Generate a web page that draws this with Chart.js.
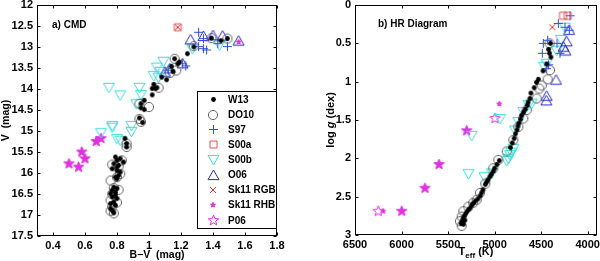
<!DOCTYPE html>
<html>
<head>
<meta charset="utf-8">
<script src="https://cdn.jsdelivr.net/npm/chart.js@4/dist/chart.umd.min.js"></script>
<style>
  html, body { margin: 0; padding: 0; background: #fff; overflow: hidden; width: 600px; height: 261px; }
  .panel { position: absolute; top: -10px; }
</style>
</head>
<body>
<div class="panel" style="left:0px"><canvas id="cmd" width="300" height="271"></canvas></div>
<div class="panel" style="left:300px"><canvas id="hr" width="310" height="271"></canvas></div>
<script>
// ---- tick labels ----
const cmdXTicks = [0.4, 0.6, 0.8, 1, 1.2, 1.4, 1.6, 1.8];
const cmdYTicks = [12, 12.5, 13, 13.5, 14, 14.5, 15, 15.5, 16, 16.5, 17, 17.5];
const hrXTicks = [6500, 6000, 5500, 5000, 4500, 4000];
const hrYTicks = [0, 0.5, 1, 1.5, 2, 2.5, 3];
const seriesNames = ['W13', 'DO10', 'S97', 'S00a', 'S00b', 'O06', 'Sk11 RGB', 'Sk11 RHB', 'P06'];

// ---- a) CMD : [B-V, V] ----
const cmdW13 = [[1.39,12.79],[1.45,12.85],[1.49,12.80],[1.28,13.00],[1.24,13.16],[1.16,13.28],[1.19,13.36],[1.18,13.40],
  [1.14,13.46],[1.15,13.58],[1.08,13.72],[1.11,13.78],[1.03,13.89],[1.02,13.99],[1.04,13.99],[1.05,13.97],[1.02,14.14],
  [0.97,14.27],[0.95,14.35],[0.95,14.45],[0.97,14.49],[0.94,14.69],[0.96,14.80],
  [0.85,15.18],[0.86,15.30],[0.86,15.38],[0.79,15.62],[0.82,15.66],[0.80,15.70],[0.84,15.74],[0.78,15.78],[0.81,15.82],
  [0.80,15.86],[0.77,15.90],[0.80,15.94],[0.82,15.98],[0.81,16.06],[0.79,16.10],[0.80,16.14],
  [0.78,16.34],[0.80,16.37],[0.77,16.41],[0.79,16.46],[0.76,16.49],[0.79,16.53],[0.77,16.57],[0.80,16.61],[0.78,16.69],
  [0.76,16.73],[0.79,16.77],[0.76,16.85],[0.77,16.89],[0.78,16.95]];
const cmdDO10 = [[1.39,12.79],[1.49,12.80],[1.28,12.98],[1.16,13.28],[1.17,13.56],[1.13,13.62],[1.06,13.97],[0.94,14.35],
  [1.00,14.43],[0.94,14.71],[0.95,14.78],[0.86,15.30],[0.86,15.38],[0.77,15.80],[0.83,15.70],[0.81,15.84],[0.82,16.02],
  [0.80,16.10],[0.76,16.18],[0.78,16.36],[0.81,16.40],[0.77,16.50],[0.76,16.65],[0.80,16.70],[0.77,16.80],[0.76,16.90],[0.78,16.96]];
const cmdS97 = [[1.31,12.65],[1.34,12.80],[1.31,12.99],[1.34,13.04],[1.36,13.07],[1.43,12.92],[1.49,12.99],[1.21,13.40],[1.23,13.45],[1.12,13.55]];
const cmdS00a = [[1.18,12.53]];
const cmdS00b = [[1.44,12.95],[1.27,13.04],[1.09,13.34],[1.05,13.48],[1.07,13.58],[1.03,13.68],[1.06,13.72],[0.75,13.96],
  [0.82,14.14],[0.94,13.96],[0.95,14.13],[0.92,14.35],[0.77,14.87],[0.70,15.04],[0.89,14.87],[0.89,15.01],[0.80,15.18],[0.82,15.22],[0.77,14.91]];
const cmdO06 = [[1.26,12.83],[1.34,12.75],[1.40,12.73],[1.46,12.74],[1.56,12.86],[1.21,13.40],[1.13,13.52],[1.10,13.60]];
const cmdSk11Rgb = [[1.18,12.53]];
const cmdSk11Rhb = [[1.56,12.88]];
const cmdP06Filled = [[0.50,15.78],[0.56,15.86],[0.58,15.50],[0.60,15.66],[0.67,15.25],[0.70,15.18]];
const cmdP06Open = [];

// ---- b) HR diagram : [Teff, log g] ----
const hrW13 = [[4400,0.50],[4420,0.58],[4410,0.63],[4395,0.68],[4440,0.77],[4480,0.86],[4530,0.97],[4550,1.01],[4575,1.08],
  [4610,1.15],[4620,1.22],[4640,1.27],[4650,1.31],[4670,1.36],[4690,1.40],[4710,1.44],[4720,1.49],[4740,1.54],[4750,1.58],
  [4760,1.63],[4775,1.68],[4790,1.74],[4810,1.80],[4830,1.86],[4950,2.03],[4975,2.08],[5000,2.13],[5015,2.17],[5035,2.21],
  [5050,2.24],[5070,2.28],[5085,2.31],[5100,2.34],[5125,2.41],[5140,2.45],[5155,2.49],[5180,2.53],[5210,2.56],[5230,2.59],
  [5245,2.61],[5265,2.65],[5280,2.67],[5300,2.70],[5315,2.73],[5330,2.76],[5340,2.79],[5350,2.82],[5360,2.85],[5335,2.86],[5320,2.81]];
const hrDO10 = [[4410,0.50],[4405,0.85],[4430,0.97],[4494,1.05],[4520,1.09],[4548,1.22],[4655,1.37],[4692,1.48],[4745,1.59],
  [4799,1.76],[4870,1.91],[4960,2.02],[5014,2.13],[5157,2.45],[5193,2.54],[5282,2.63],[5336,2.69],[5354,2.76],[5372,2.82],
  [5354,2.88],[5100,2.33],[5230,2.58]];
const hrS97 = [[4190,0.14],[4316,0.24],[4244,0.29],[4198,0.33],[4477,0.50],[4488,0.63],[4298,0.63],[4441,0.83],[4420,0.78],[4430,0.46],[4330,0.50]];
const hrS00a = [[4265,0.14],[4215,0.14]];
const hrS00b = [[4244,0.29],[4287,0.45],[4334,0.59],[4441,0.76],[4470,0.80],[4602,1.28],[4638,1.30],[4692,1.39],[4745,1.52],
  [4781,1.63],[4799,1.87],[4835,1.95],[4853,2.00],[4870,2.03],[4942,1.48],[5246,1.70],[5280,2.20],[5110,2.24],[5030,2.19],[4820,1.92]];
const hrO06 = [[4200,0.33],[4226,0.48],[4240,0.60],[4260,0.55],[4340,0.98],[4441,1.19],[4445,1.25]];
const hrSk11Rgb = [[4380,0.29]];
const hrSk11Rhb = [[4950,1.29],[6196,2.69]];
const hrP06Filled = [[5300,1.64],[5597,2.08],[5748,2.39],[5998,2.69]];
const hrP06Open = [[4996,1.48],[6250,2.69]];

// ---- marker glyphs ----
function marker(kind, r, color, fill) {
  const s = Math.ceil(2 * r + 4);
  const c = document.createElement('canvas');
  c.width = c.height = s;
  const g = c.getContext('2d');
  const m = s / 2;
  g.strokeStyle = color;
  g.fillStyle = fill || color;
  g.lineWidth = 1;
  g.beginPath();
  if (kind === 'dot') { g.arc(m, m, r, 0, 2 * Math.PI); g.fill(); return c; }
  if (kind === 'circle') g.arc(m, m, r, 0, 2 * Math.PI);
  if (kind === 'plus') { g.moveTo(m - r, m); g.lineTo(m + r, m); g.moveTo(m, m - r); g.lineTo(m, m + r); }
  if (kind === 'x') { g.moveTo(m - r, m - r); g.lineTo(m + r, m + r); g.moveTo(m + r, m - r); g.lineTo(m - r, m + r); }
  if (kind === 'square') g.rect(m - r, m - r, 2 * r, 2 * r);
  if (kind === 'tri') { g.moveTo(m, m - r); g.lineTo(m + r, m + 0.75 * r); g.lineTo(m - r, m + 0.75 * r); g.closePath(); }
  if (kind === 'tridown') { g.moveTo(m, m + r); g.lineTo(m + r, m - 0.75 * r); g.lineTo(m - r, m - 0.75 * r); g.closePath(); }
  if (kind === 'star') {
    for (let i = 0; i < 10; i++) {
      const a = -Math.PI / 2 + i * Math.PI / 5;
      const rr = i % 2 ? r * 0.42 : r;
      g[i ? 'lineTo' : 'moveTo'](m + rr * Math.cos(a), m + rr * Math.sin(a));
    }
    g.closePath();
  }
  if (fill && kind !== 'plus' && kind !== 'x') g.fill();
  g.stroke();
  return c;
}

const img = {
  W13: marker('dot', 2.4, '#000'),
  DO10: marker('circle', 4.6, '#666'),
  S97: marker('plus', 4.5, '#2f4fdc'),
  S00a: marker('square', 3.5, '#e85050'),
  S00b: marker('tridown', 5.5, '#3cdcdc'),
  O06: marker('tri', 5.5, '#2a2ac8'),
  Sk11Rgb: marker('x', 3, '#e83030'),
  Sk11Rhb: marker('star', 2.6, '#e030e0', '#e030e0'),
  P06: marker('star', 5.5, '#e030e0'),
  P06Filled: marker('star', 5.5, '#e030e0', '#e030e0')
};
const legendImgs = [img.W13, img.DO10, img.S97, img.S00a, img.S00b, img.O06, img.Sk11Rgb, img.Sk11Rhb, img.P06];

const xy = arr => arr.map(([x, y]) => ({ x, y }));
function sets(d) {
  // first entry is drawn on top in Chart.js
  return [
    ['W13', d.w13, img.W13], ['DO10', d.do10, img.DO10], ['Sk11 RHB', d.rhb, img.Sk11Rhb],
    ['Sk11 RGB', d.rgb, img.Sk11Rgb], ['S00a', d.s00a, img.S00a], ['S97', d.s97, img.S97],
    ['O06', d.o06, img.O06], ['S00b', d.s00b, img.S00b], ['P06', d.p06, img.P06], ['P06 filled', d.p06f, img.P06Filled]
  ].map(([label, data, style]) => ({ label, data: xy(data), pointStyle: style, pointRadius: 4, clip: false }));
}

const font = { family: '"Liberation Sans", Arial, sans-serif', size: 11, weight: 'bold' };
const titleFont = { family: '"Liberation Sans", Arial, sans-serif', size: 10.5, weight: 'bold' };

function axis(o) {
  const ax = {
    type: 'linear', min: o.min, max: o.max, reverse: !!o.reverse,
    afterBuildTicks: s => { s.ticks = o.ticks.map(v => ({ value: v })); },
    afterFit: s => { if (o.horizontal) s.height = o.size; else s.width = o.size; },
    grid: { display: false, drawTicks: false },
    border: { display: false },
    ticks: { font, color: '#000', padding: o.horizontal ? 3 : 4, autoSkip: false, maxRotation: 0, callback: v => String(v) },
    title: { display: !!o.title, text: o.title || '', font: titleFont, color: '#000', padding: 0 }
  };
  return ax;
}

// box with inward ticks on all four sides
const boxPlugin = {
  id: 'box',
  afterDraw(chart) {
    const { ctx, chartArea: a, scales } = chart;
    ctx.save();
    ctx.strokeStyle = '#000';
    ctx.lineWidth = 1;
    const L = Math.round(a.left) + 0.5, R = Math.round(a.right) - 0.5;
    const T = Math.round(a.top) + 0.5, B = Math.round(a.bottom) - 0.5;
    ctx.strokeRect(L, T, R - L, B - T);
    ctx.beginPath();
    scales.x.ticks.forEach(t => {
      const p = Math.round(scales.x.getPixelForValue(t.value)) + 0.5;
      ctx.moveTo(p, B); ctx.lineTo(p, B - 3);
      ctx.moveTo(p, T); ctx.lineTo(p, T + 3);
    });
    scales.y.ticks.forEach(t => {
      const p = Math.round(scales.y.getPixelForValue(t.value)) + 0.5;
      ctx.moveTo(L, p); ctx.lineTo(L + 3, p);
      ctx.moveTo(R, p); ctx.lineTo(R - 3, p);
    });
    ctx.stroke();
    ctx.restore();
  }
};

function panelLabel(text, dx, dy) {
  return {
    id: 'panelLabel',
    afterDraw(chart) {
      const { ctx, chartArea: a } = chart;
      ctx.save();
      ctx.font = 'bold 10px "Liberation Sans", Arial, sans-serif';
      ctx.fillStyle = '#000';
      ctx.textBaseline = 'middle';
      ctx.fillText(text, a.left + dx, a.top + dy);
      ctx.restore();
    }
  };
}

const legendPlugin = {
  id: 'boxLegend',
  afterDraw(chart) {
    const { ctx } = chart;
    const x0 = 197.5, y0 = 101.5, w = 79, h = 137;
    ctx.save();
    ctx.fillStyle = '#fff';
    ctx.fillRect(x0, y0, w, h);
    ctx.strokeStyle = '#000';
    ctx.lineWidth = 1;
    ctx.strokeRect(x0, y0, w, h);
    ctx.font = 'bold 10px "Liberation Sans", Arial, sans-serif';
    ctx.fillStyle = '#000';
    ctx.textBaseline = 'middle';
    seriesNames.forEach((name, i) => {
      const y = y0 + 8 + i * 15.1;
      const im = legendImgs[i];
      ctx.drawImage(im, Math.round(213 - im.width / 2), Math.round(y - im.height / 2));
      ctx.fillText(name, 228, y + 0.5);
    });
    ctx.restore();
  }
};

// HR axis titles with italic g and subscript eff
const hrTitles = {
  id: 'hrTitles',
  afterDraw(chart) {
    const { ctx, chartArea: a } = chart;
    const fam = '"Liberation Sans", Arial, sans-serif';
    ctx.save();
    ctx.fillStyle = '#000';
    ctx.textBaseline = 'middle';
    // x title: T_eff (K)
    const big = 'bold 11px ' + fam, small = 'bold 8px ' + fam;
    ctx.font = big; const wT = ctx.measureText('T').width; const wK = ctx.measureText(' (K)').width;
    ctx.font = small; const wE = ctx.measureText('eff').width;
    let x = (a.left + a.right) / 2 - (wT + wE + wK) / 2;
    const y = a.bottom + 17;
    ctx.font = big; ctx.fillText('T', x, y); x += wT;
    ctx.font = small; ctx.fillText('eff', x, y + 4); x += wE;
    ctx.font = big; ctx.fillText(' (K)', x, y);
    // y title: log g (dex)
    ctx.translate(31, (a.top + a.bottom) / 2);
    ctx.rotate(-Math.PI / 2);
    const parts = [['log ', big], ['g', 'italic bold 11px ' + fam], [' (dex)', big]];
    let tw = 0;
    parts.forEach(([t, f]) => { ctx.font = f; tw += ctx.measureText(t).width; });
    let px = -tw / 2;
    parts.forEach(([t, f]) => { ctx.font = f; ctx.fillText(t, px, 0); px += ctx.measureText(t).width; });
    ctx.restore();
  }
};

const common = {
  responsive: false, animation: false, events: [],
  plugins: { legend: { display: false }, tooltip: { enabled: false } }
};

new Chart(document.getElementById('cmd'), {
  type: 'scatter',
  data: { datasets: sets({ w13: cmdW13, do10: cmdDO10, s97: cmdS97, s00a: cmdS00a, s00b: cmdS00b, o06: cmdO06,
    rgb: cmdSk11Rgb, rhb: cmdSk11Rhb, p06: cmdP06Open, p06f: cmdP06Filled }) },
  options: Object.assign({}, common, {
    layout: { padding: { top: 15, right: 23, left: 0, bottom: 0 } },
    scales: {
      x: axis({ min: 0.3, max: 1.8, ticks: cmdXTicks, horizontal: true, size: 25, title: 'B\u2212V  (mag)' }),
      y: axis({ min: 12, max: 17.5, reverse: true, ticks: cmdYTicks, size: 37, title: 'V  (mag)' })
    }
  }),
  plugins: [boxPlugin, legendPlugin, panelLabel('a) CMD', 15, 20)]
});

new Chart(document.getElementById('hr'), {
  type: 'scatter',
  data: { datasets: sets({ w13: hrW13, do10: hrDO10, s97: hrS97, s00a: hrS00a, s00b: hrS00b, o06: hrO06,
    rgb: hrSk11Rgb, rhb: hrSk11Rhb, p06: hrP06Open, p06f: hrP06Filled }) },
  options: Object.assign({}, common, {
    layout: { padding: { top: 15, right: 13, left: 0, bottom: 0 } },
    scales: {
      x: axis({ min: 3900, max: 6500, reverse: true, ticks: hrXTicks, horizontal: true, size: 26 }),
      y: axis({ min: 0, max: 3, reverse: true, ticks: hrYTicks, size: 55 })
    }
  }),
  plugins: [boxPlugin, hrTitles, panelLabel('b) HR Diagram', 23, 19)]
});
</script>
</body>
</html>
